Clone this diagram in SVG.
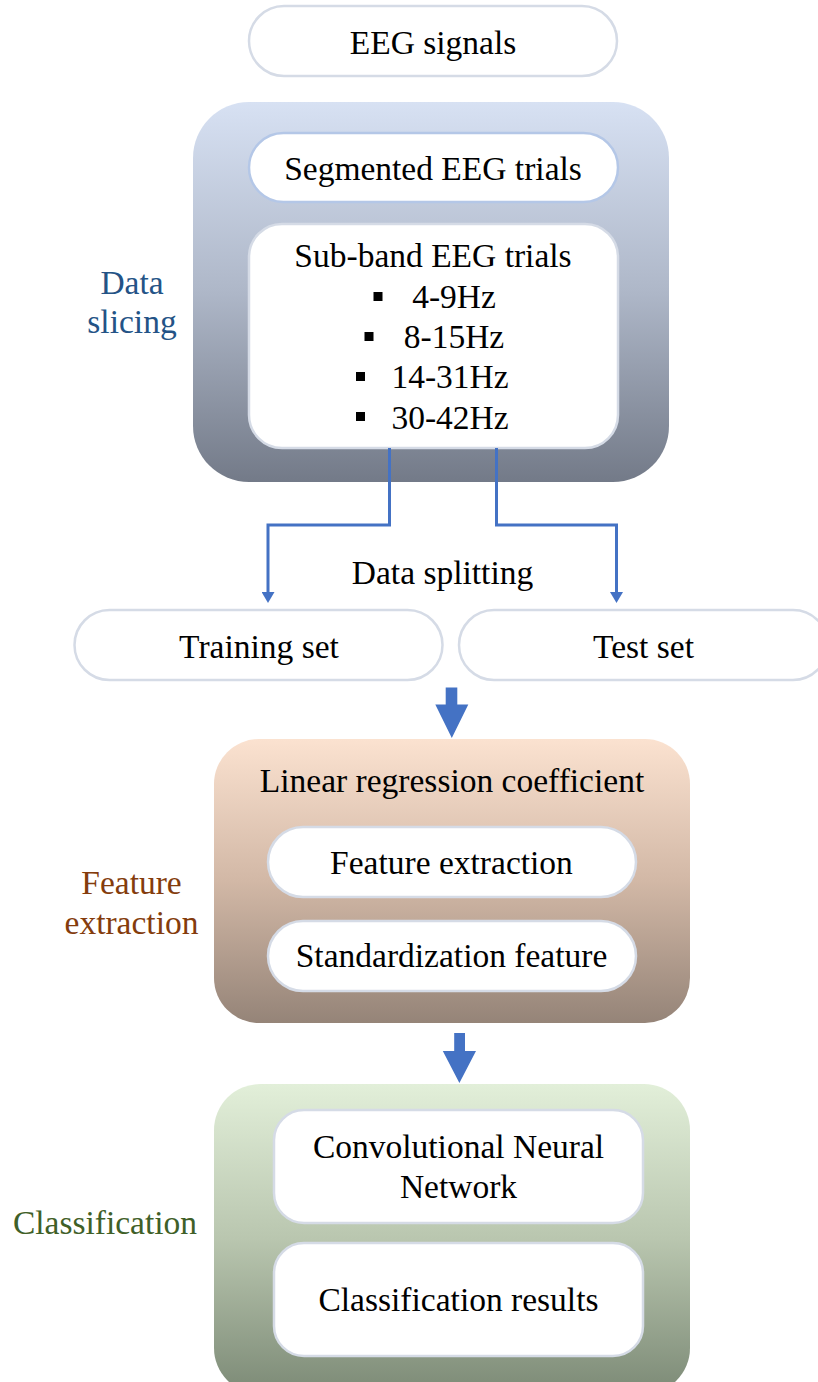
<svg xmlns="http://www.w3.org/2000/svg" width="818" height="1382" viewBox="0 0 818 1382">
  <defs>
    <linearGradient id="gradSlicing" x1="0" y1="0" x2="0" y2="1">
      <stop offset="0" stop-color="#d7e1f3"/>
      <stop offset="0.5" stop-color="#aeb7c8"/>
      <stop offset="1" stop-color="#737a88"/>
    </linearGradient>
    <linearGradient id="gradFeature" x1="0" y1="0" x2="0" y2="1">
      <stop offset="0" stop-color="#fbe2d0"/>
      <stop offset="0.5" stop-color="#d2b8a6"/>
      <stop offset="1" stop-color="#958478"/>
    </linearGradient>
    <linearGradient id="gradClass" x1="0" y1="0" x2="0" y2="1">
      <stop offset="0" stop-color="#e2efd9"/>
      <stop offset="0.5" stop-color="#b9c6af"/>
      <stop offset="1" stop-color="#7c8a76"/>
    </linearGradient>
    <marker id="tip" viewBox="0 0 11 13" refX="0" refY="6.5" markerWidth="11" markerHeight="13" markerUnits="userSpaceOnUse" orient="auto">
      <path d="M0,0 L11,6.5 L0,13 Z" fill="#4472c4"/>
    </marker>
    <style>
      text { font-family: "Liberation Serif", "Times New Roman", serif; font-size: 33.5px; fill: #000; text-anchor: middle; }
      .pill { fill: #ffffff; stroke: #d5dbe6; stroke-width: 2.5; }
      .pillBlue { fill: #ffffff; stroke: #b4c7e7; stroke-width: 2.5; }
      .link { fill: none; stroke: #4472c4; stroke-width: 3; }
      .bigArrow { fill: #4472c4; }
      .bullet { fill: #000; }
      .lblSlicing { fill: #245386; }
      .lblFeature { fill: #843c0c; }
      .lblClass { fill: #3f6028; }
    </style>
  </defs>

  <rect width="818" height="1382" fill="#ffffff"/>

  <!-- input signals -->
  <g id="eeg-signals">
    <rect class="pill" x="249" y="6" width="368" height="70" rx="35"/>
    <text x="433" y="54">EEG signals</text>
  </g>

  <!-- data slicing stage -->
  <g id="data-slicing">
    <rect x="193" y="102" width="476" height="380" rx="56" fill="url(#gradSlicing)"/>
    <text class="lblSlicing" x="132" y="294">Data</text>
    <text class="lblSlicing" x="132" y="333">slicing</text>
  </g>
  <g id="segmented-trials">
    <rect class="pillBlue" x="249" y="133" width="369" height="69" rx="34.5"/>
    <text x="433" y="180">Segmented EEG trials</text>
  </g>
  <g id="subband-trials">
    <rect class="pill" x="249" y="224" width="369" height="224" rx="33"/>
    <text x="433" y="267">Sub-band EEG trials</text>
    <rect class="bullet" x="373.5" y="292" width="9" height="9"/>
    <text x="454" y="308">4-9Hz</text>
    <rect class="bullet" x="364.5" y="332" width="9" height="9"/>
    <text x="454" y="348">8-15Hz</text>
    <rect class="bullet" x="356" y="372" width="9" height="9"/>
    <text x="450" y="388">14-31Hz</text>
    <rect class="bullet" x="356" y="412" width="9" height="9"/>
    <text x="450" y="428.5">30-42Hz</text>
  </g>

  <!-- split into training / test -->
  <g id="data-splitting-label">
    <text x="442.5" y="584">Data splitting</text>
  </g>
  <g id="training-set">
    <rect class="pill" x="74.5" y="610" width="368" height="70" rx="35"/>
    <text x="259" y="658">Training set</text>
  </g>
  <g id="test-set">
    <rect class="pill" x="459" y="610" width="369" height="70" rx="35"/>
    <text x="643.5" y="658">Test set</text>
  </g>

  <!-- feature extraction stage -->
  <g id="feature-extraction">
    <rect x="214" y="739" width="476" height="284" rx="45" fill="url(#gradFeature)"/>
    <text x="452" y="792">Linear regression coefficient</text>
    <text class="lblFeature" x="131.5" y="894">Feature</text>
    <text class="lblFeature" x="131.5" y="934">extraction</text>
  </g>
  <g id="feature-extraction-step">
    <rect class="pill" x="268" y="827" width="368" height="70" rx="35"/>
    <text x="451.5" y="874">Feature extraction</text>
  </g>
  <g id="standardization">
    <rect class="pill" x="268" y="921" width="368" height="70" rx="35"/>
    <text x="451.5" y="967">Standardization feature</text>
  </g>

  <!-- classification stage -->
  <g id="classification">
    <rect x="214" y="1084" width="476" height="310" rx="46" fill="url(#gradClass)"/>
    <text class="lblClass" x="105" y="1234">Classification</text>
  </g>
  <g id="cnn">
    <rect class="pill" x="274" y="1110" width="369" height="113" rx="30"/>
    <text x="458.5" y="1158">Convolutional Neural</text>
    <text x="458.5" y="1198">Network</text>
  </g>
  <g id="results">
    <rect class="pill" x="274" y="1243" width="369" height="113" rx="30"/>
    <text x="458.5" y="1311">Classification results</text>
  </g>

  <!-- connectors -->
  <g id="connectors">
    <path class="link" d="M389.5 448 V525 H268 V592" marker-end="url(#tip)"/>
    <path class="link" d="M496.5 448 V525 H616.5 V592" marker-end="url(#tip)"/>
    <path class="bigArrow" d="M445.7 687.5 H457.3 V704.5 H468.3 L451.8 738 L435.3 704.5 H445.7 Z"/>
    <path class="bigArrow" d="M454.2 1033 H465 V1051 H476 L459.4 1083 L442.8 1051 H454.2 Z"/>
  </g>
</svg>
